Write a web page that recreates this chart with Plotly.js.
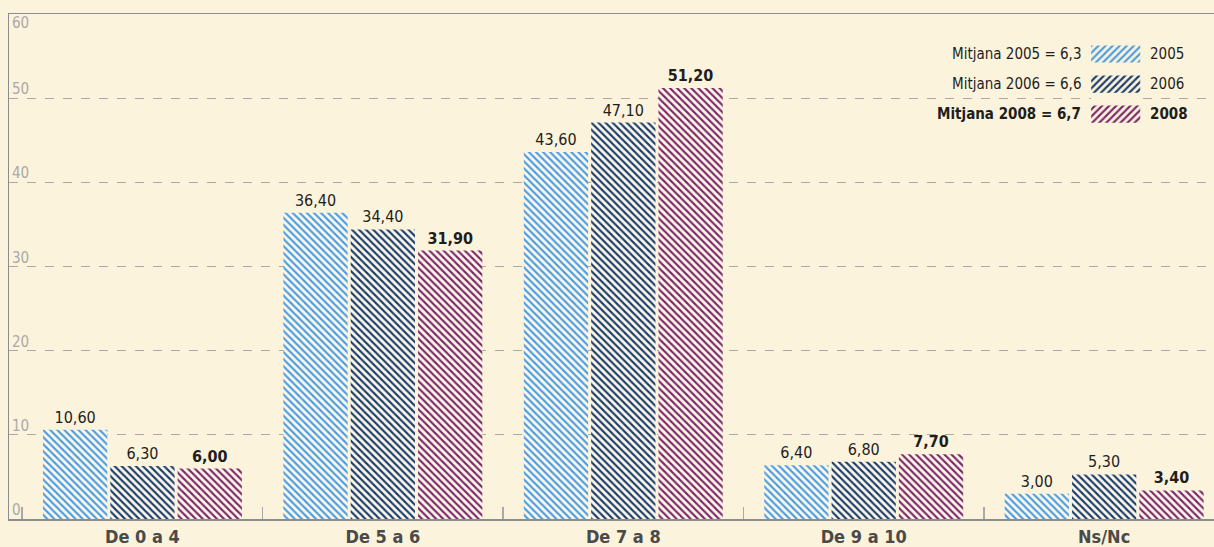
<!DOCTYPE html>
<html>
<head>
<meta charset="utf-8">
<script src="https://cdn.plot.ly/plotly-3.0.1.min.js"></script>
<style>
html,body{margin:0;padding:0;background:#fcf3dc;}
#chart{width:1214px;height:547px;}
</style>
</head>
<body>
<div id="chart"></div>
<script>
// ---- data ----
const categories = ["De 0 a 4", "De 5 a 6", "De 7 a 8", "De 9 a 10", "Ns/Nc"];
const seriesNames = ["2005", "2006", "2008"];
const values2005 = [10.6, 36.4, 43.6, 6.4, 3.0];
const values2006 = [6.3, 34.4, 47.1, 6.8, 5.3];
const values2008 = [6.0, 31.9, 51.2, 7.7, 3.4];
const mitjanes = [6.3, 6.6, 6.7];
const yTicks = [0, 10, 20, 30, 40, 50, 60];

// ---- styles ----
const FONT = "'DejaVu Sans Condensed', 'DejaVu Sans', sans-serif";
const colors = ["#4a9de2", "#1b3d6c", "#7c2868"];
const bgStripe = "#fdf8ea";
const allValues = [values2005, values2006, values2008];
const boldFlags = [false, false, true];

const traces = allValues.map((vals, i) => ({
  type: "bar",
  name: seriesNames[i],
  x: categories,
  y: vals,
  marker: {
    color: colors[i],
    line: {width: 0},
    pattern: {shape: "\\", fgcolor: colors[i], bgcolor: bgStripe, size: 5, solidity: 0.42, fillmode: "replace"}
  },
  texttemplate: boldFlags[i] ? "<b>%{y:.2f}</b>" : "%{y:.2f}",
  textposition: "outside",
  cliponaxis: false,
  textfont: {family: FONT, size: 16, color: "#1e1e1e"},
  hoverinfo: "skip",
  showlegend: false
}));

// legend swatches drawn as a small overlay bar subplot
const legDomain = [0.772, 0.9505];
traces.push({
  type: "bar",
  orientation: "h",
  x: seriesNames.map(() => 1),
  y: seriesNames,
  xaxis: "x2",
  yaxis: "y2",
  width: 0.57,
  marker: {
    color: colors,
    line: {width: 0},
    pattern: {shape: "/", fgcolor: colors, bgcolor: bgStripe, size: 5, solidity: 0.42, fillmode: "replace"}
  },
  hoverinfo: "skip",
  showlegend: false
});

const annotations = [];
const rowH = (legDomain[1] - legDomain[0]) / seriesNames.length;
seriesNames.forEach((s, i) => {
  const m = mitjanes[i].toFixed(1).replace(".", ",");
  const b = boldFlags[i];
  const yy = legDomain[1] - (i + 0.5) * rowH;
  annotations.push({
    xref: "paper", yref: "paper", x: 0.891, y: yy, xanchor: "right", yanchor: "middle",
    text: b ? "<b>Mitjana " + s + " = " + m + "</b>" : "Mitjana " + s + " = " + m,
    showarrow: false, font: {family: FONT, size: 15, color: "#1e1e1e"}
  });
  annotations.push({
    xref: "paper", yref: "paper", x: 0.945, y: yy, xanchor: "left", yanchor: "middle",
    text: b ? "<b>" + s + "</b>" : s,
    showarrow: false, font: {family: FONT, size: 15, color: "#1e1e1e"}
  });
});
// y tick labels (inside, just above each grid line)
yTicks.forEach(v => {
  annotations.push({
    xref: "paper", yref: "y", x: 0, y: v, xanchor: "left", yanchor: "bottom",
    xshift: 1, yshift: v === 60 ? -20 : -2,
    text: String(v), showarrow: false,
    font: {family: FONT, size: 15, color: "#a9a9a9"}
  });
});

const layout = {
  width: 1214, height: 547,
  paper_bgcolor: "#fcf3dc",
  plot_bgcolor: "#fcf3dc",
  margin: {l: 9, r: 0, t: 14, b: 28, pad: 0},
  separators: ",.",
  barmode: "group",
  bargap: 0.16,
  bargroupgap: 0.045,
  showlegend: false,
  font: {family: FONT},
  xaxis: {
    type: "category",
    categoryorder: "array",
    categoryarray: categories,
    range: [-0.555, 4.457],
    showline: true, linecolor: "#8c8c8c", linewidth: 1.5,
    mirror: true,
    ticks: "inside", tickson: "boundaries", ticklen: 12, tickcolor: "#a8a8a8", tickwidth: 1.5,
    showgrid: false,
    ticklabelstandoff: 1,
    tickfont: {family: FONT, size: 18, color: "#4a4a4a", weight: "bold"},
    fixedrange: true
  },
  yaxis: {
    range: [0, 60],
    tickvals: yTicks,
    showticklabels: false,
    ticks: "",
    showline: true, linecolor: "#8c8c8c", linewidth: 1.5,
    showgrid: true, gridcolor: "#a9a9a9", gridwidth: 1.2, griddash: "dash",
    zeroline: false,
    fixedrange: true
  },
  xaxis2: {domain: [0.898, 0.939], range: [0, 1], visible: false, fixedrange: true, anchor: "y2"},
  yaxis2: {domain: legDomain, type: "category", categoryorder: "array", categoryarray: seriesNames,
           range: [2.5, -0.5], visible: false, fixedrange: true, anchor: "x2"},
  annotations: annotations
};

Plotly.newPlot("chart", traces, layout, {staticPlot: true, displayModeBar: false});
</script>
</body>
</html>
